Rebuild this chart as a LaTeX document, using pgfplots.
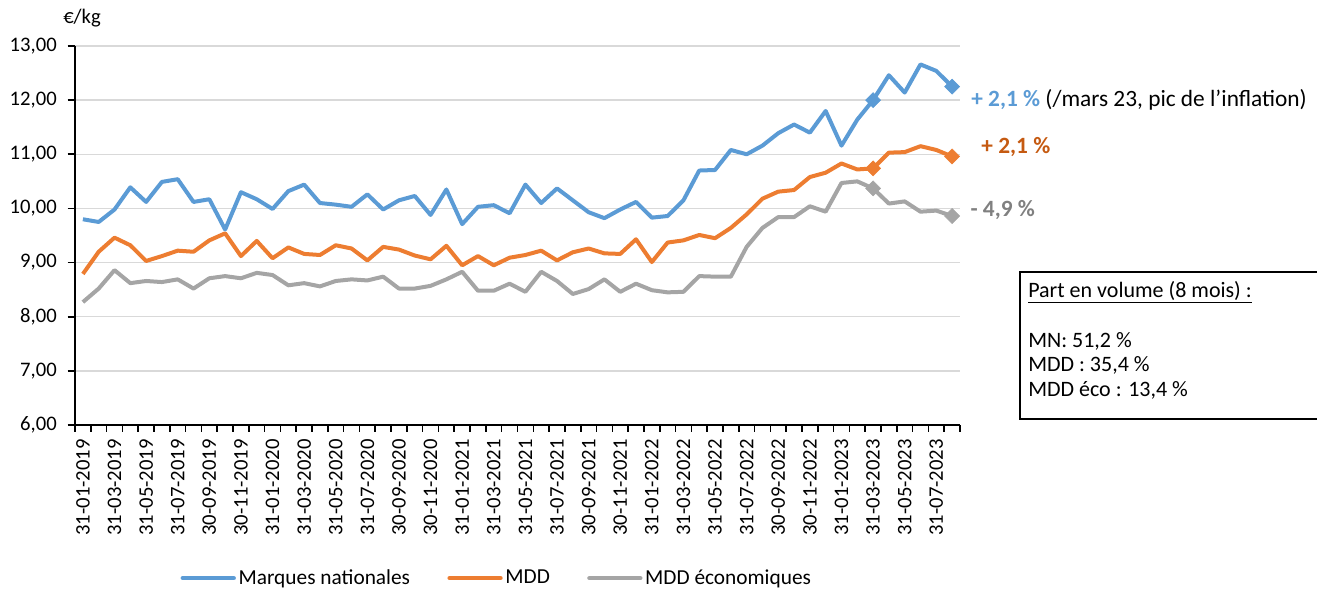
\documentclass[border=0pt]{standalone}
\usepackage{fontspec}
\setmainfont{Carlito}
\usepackage{pgfplots}
\usepackage{pgfplotstable}
\pgfplotsset{compat=1.18}
\definecolor{mnblue}{HTML}{5B9BD5}
\definecolor{mddorange}{HTML}{ED7D31}
\definecolor{ecogray}{HTML}{A5A5A5}
\definecolor{darkorange}{HTML}{C55A11}
\definecolor{labgray}{HTML}{808080}
\definecolor{gridgray}{HTML}{D9D9D9}
\newcommand\cf{\fontsize{15.5}{18}\selectfont}
\newcommand\xf{\fontsize{15.5}{18}\selectfont}
\newcommand\af{\fontsize{17.5}{21}\selectfont}
\newcommand\lf{\fontsize{16}{19}\selectfont}
\newcommand\boxf{\fontsize{16.5}{20}\selectfont}
\pgfplotstableread{
i mn mdd eco
0 9.80 8.79 8.27
1 9.75 9.20 8.52
2 9.98 9.46 8.86
3 10.39 9.32 8.62
4 10.12 9.03 8.66
5 10.49 9.12 8.64
6 10.54 9.22 8.69
7 10.12 9.20 8.52
8 10.17 9.41 8.71
9 9.61 9.54 8.75
10 10.30 9.12 8.71
11 10.17 9.40 8.81
12 9.99 9.08 8.77
13 10.32 9.28 8.58
14 10.44 9.16 8.62
15 10.10 9.14 8.56
16 10.07 9.32 8.66
17 10.03 9.26 8.69
18 10.26 9.04 8.67
19 9.98 9.29 8.74
20 10.15 9.24 8.52
21 10.23 9.13 8.52
22 9.88 9.06 8.57
23 10.35 9.31 8.69
24 9.71 8.95 8.83
25 10.03 9.12 8.48
26 10.06 8.95 8.48
27 9.91 9.09 8.61
28 10.44 9.14 8.46
29 10.10 9.22 8.83
30 10.37 9.04 8.66
31 10.15 9.19 8.42
32 9.93 9.26 8.51
33 9.82 9.17 8.69
34 9.98 9.16 8.46
35 10.12 9.43 8.61
36 9.83 9.01 8.49
37 9.86 9.37 8.45
38 10.15 9.41 8.46
39 10.70 9.51 8.75
40 10.71 9.45 8.74
41 11.08 9.64 8.74
42 11.00 9.89 9.29
43 11.16 10.18 9.64
44 11.39 10.31 9.84
45 11.55 10.34 9.84
46 11.40 10.58 10.04
47 11.80 10.66 9.94
48 11.16 10.83 10.47
49 11.64 10.72 10.50
50 12.00 10.74 10.37
51 12.46 11.03 10.09
52 12.14 11.04 10.13
53 12.66 11.15 9.94
54 12.54 11.08 9.96
55 12.25 10.96 9.86
}\data
\pgfplotstableread{
i mn mdd eco
50 12.00 10.74 10.37
55 12.25 10.96 9.86
}\marks
\begin{document}
\begin{tikzpicture}
\useasboundingbox (-56.25pt,-123.75pt) rectangle (931.5pt,318.75pt);
\begin{axis}[
  scale only axis,
  width=663.75pt, height=284.25pt,
  xmin=-0.5, xmax=55.5, ymin=6, ymax=13,
  axis x line*=bottom, axis y line*=left,
  axis line style={black, line width=1.2pt, -},
  ytick={6,7,...,13},
  ymajorgrids, major grid style={gridgray, line width=1.1pt},
  xtick={0,2,...,54},
  xticklabels={31-01-2019,31-03-2019,31-05-2019,31-07-2019,30-09-2019,30-11-2019,31-01-2020,31-03-2020,31-05-2020,31-07-2020,30-09-2020,30-11-2020,31-01-2021,31-03-2021,31-05-2021,31-07-2021,30-09-2021,30-11-2021,31-01-2022,31-03-2022,31-05-2022,31-07-2022,30-09-2022,30-11-2022,31-01-2023,31-03-2023,31-05-2023,31-07-2023},
  minor xtick={-0.5,0.5,...,55.5},
  tick align=outside,
  x tick style={draw=none},
  minor x tick style={draw=black, line width=1.2pt},
  minor tick length=5pt,
  y tick style={black, line width=1.2pt},
  major tick length=5.5pt,
  xticklabel style={font=\xf, anchor=east, inner sep=0pt, rotate=90, xshift=-5pt},
  yticklabel style={font=\cf, anchor=east, inner sep=0pt, xshift=-8pt},
  /pgf/number format/.cd, fixed, fixed zerofill, precision=2, use comma, assume math mode=true,
  /pgfplots/.cd,
  clip=false,
  legend columns=3,
  legend style={draw=none, fill=none, font=\lf, at={(0.477,-0.404)}, anchor=center,
    /tikz/every even column/.append style={column sep=26pt}},
  legend image code/.code={\draw[#1, line width=3.5pt, line cap=round] (0pt,0pt) -- (38pt,0pt);},
]
\addplot[mnblue, line width=3pt, line join=round] table[x=i, y=mn] {\data};
\addlegendentry{Marques nationales}
\addplot[mddorange, line width=3pt, line join=round] table[x=i, y=mdd] {\data};
\addlegendentry{MDD}
\addplot[ecogray, line width=3pt, line join=round] table[x=i, y=eco] {\data};
\addlegendentry{MDD économiques}
\addplot[forget plot, only marks, mark=square*, mark size=4pt, mark options={rotate=45, mnblue}] table[x=i, y=mn] {\marks};
\addplot[forget plot, only marks, mark=square*, mark size=4pt, mark options={rotate=45, mddorange}] table[x=i, y=mdd] {\marks};
\addplot[forget plot, only marks, mark=square*, mark size=4pt, mark options={rotate=45, ecogray}] table[x=i, y=eco] {\marks};
\node[anchor=west, font=\af, inner sep=0pt] at (axis cs:56.2,12.0) {\textcolor{mnblue}{\textbf{+ 2,1 \%}} (/mars 23, pic de l’inflation)};
\node[anchor=west, font=\af, inner sep=0pt, text=darkorange] at (axis cs:56.84,11.13) {\textbf{+ 2,1 \%}};
\node[anchor=west, font=\af, inner sep=0pt, text=labgray] at (axis cs:56.15,9.97) {\textbf{- 4,9 \%}};
\end{axis}
\node[anchor=west, font=\cf, inner sep=0pt] at (-9pt,305.25pt) {€/kg};
\draw[black, line width=1.5pt] (950pt,114.75pt) -- (708.75pt,114.75pt) -- (708.75pt,4.5pt) -- (950pt,4.5pt);
\node[anchor=west, font=\boxf, inner sep=0pt] at (714.75pt,99.75pt) {\underline{Part en volume (8 mois) :}};
\node[anchor=west, font=\boxf, inner sep=0pt] at (714.75pt,63pt) {MN: 51,2 \%};
\node[anchor=west, font=\boxf, inner sep=0pt] at (714.75pt,45pt) {MDD : 35,4 \%};
\node[anchor=west, font=\boxf, inner sep=0pt] at (714.75pt,26.25pt) {MDD éco : 13,4 \%};
\end{tikzpicture}
\end{document}
